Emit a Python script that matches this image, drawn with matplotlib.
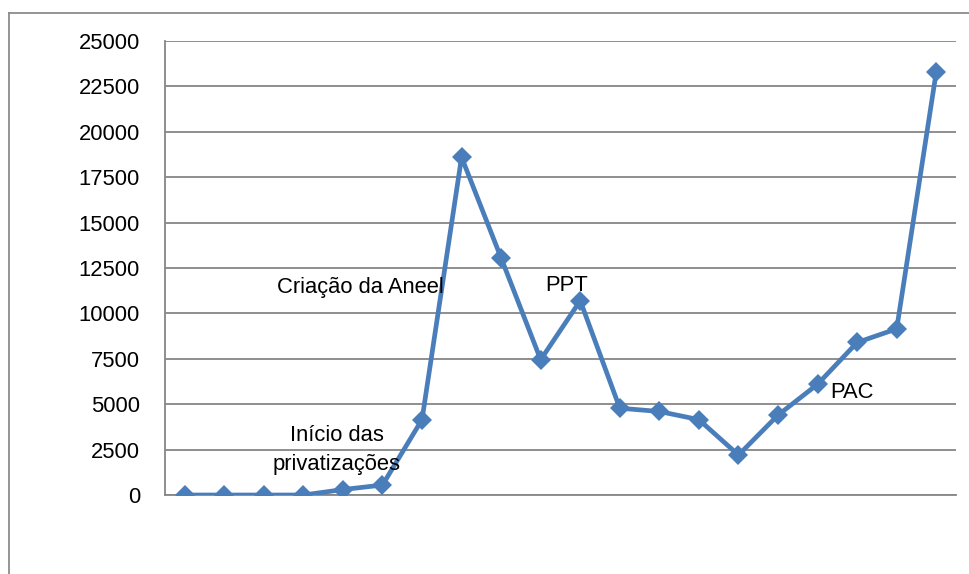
import matplotlib
matplotlib.use("Agg")
import matplotlib.pyplot as plt
from matplotlib.lines import Line2D

plt.rcParams['font.family'] = ['Liberation Sans', 'DejaVu Sans']

# Investment series, one value per year (20 periods)
periods = list(range(20))
values = [0, 0, 0, 0, 300, 550, 4150, 18600, 13050, 7450,
          10700, 4780, 4600, 4150, 2200, 4400, 6100, 8400, 9150, 23300]

y_ticks = [0, 2500, 5000, 7500, 10000, 12500, 15000, 17500, 20000, 22500, 25000]

# Event annotations: (text, x position, y value)
events = [
    ("Criação da Aneel", 4.43, 11450),
    ("PPT", 9.66, 11560),
    ("Início das\nprivatizações", 3.85, 2480),
    ("PAC", 16.87, 5620),
]

fig = plt.figure(figsize=(9.7, 5.74), dpi=100)
ax = fig.add_axes([0.170, 0.1376, 0.8156, 0.791])

grid_color = "#868686"
ax.plot(periods, values, color="#4A7EBB", lw=3.4, marker="D", ms=10,
        markeredgewidth=0, zorder=3)

ax.set_xlim(-0.5, 19.5)
ax.set_ylim(0, 25000)
ax.set_yticks(y_ticks)
ax.set_yticklabels([str(t) for t in y_ticks], fontsize=15.8)
ax.set_xticks([])
ax.tick_params(axis="y", length=0, pad=18)
ax.yaxis.grid(True, color=grid_color, lw=1.3)
ax.set_axisbelow(True)
for side in ("top", "right"):
    ax.spines[side].set_visible(False)
for side in ("left", "bottom"):
    ax.spines[side].set_color(grid_color)
    ax.spines[side].set_linewidth(1.3)

for text, x, y in events:
    ax.text(x, y, text, fontsize=15.8, ha="center", va="center",
            linespacing=1.55, zorder=4)

# Outer chart frame
fig.add_artist(Line2D([9 / 970, 1.0], [1 - 13 / 574, 1 - 13 / 574],
                      transform=fig.transFigure, color="#8C8C8C", lw=1.3))
fig.add_artist(Line2D([9 / 970, 9 / 970], [0, 1 - 13 / 574],
                      transform=fig.transFigure, color="#8C8C8C", lw=1.3))

fig.savefig("out.png", dpi=100, facecolor="white")
